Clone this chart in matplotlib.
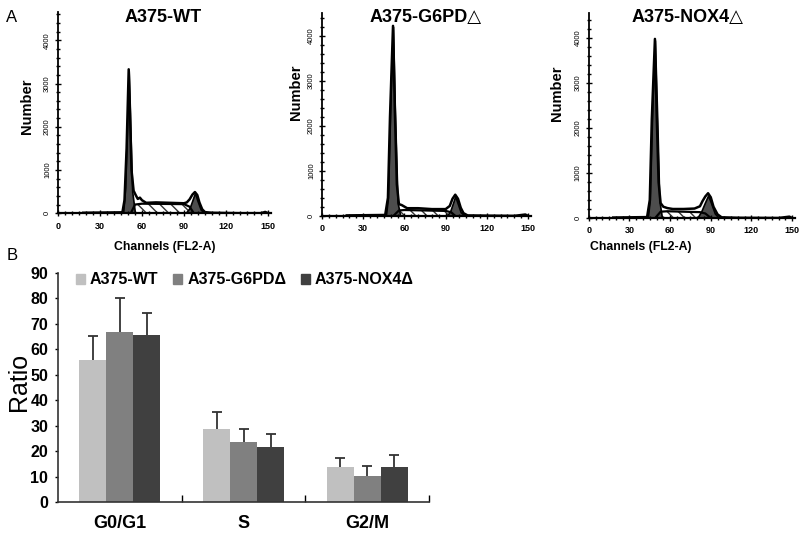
import numpy as np
import matplotlib
matplotlib.use('Agg')
import matplotlib.pyplot as plt
from matplotlib.patches import Patch
from matplotlib.ticker import MultipleLocator

plt.rcParams['font.family'] = ['Liberation Sans', 'DejaVu Sans']

# ---- panel A: DNA histograms ----
titles = ['A375-WT', 'A375-G6PD△', 'A375-NOX4△']

# A375-WT
wt_env_x = [18, 46, 47.5, 49, 50.5, 51.5, 52.5, 54, 55.5, 57, 58.5, 60, 63, 70, 80, 90, 92, 94, 96, 97.8, 99.5, 101, 103, 105, 110, 120, 130, 145, 148, 150]
wt_env_y = [10, 20, 300, 1500, 3330, 2300, 1000, 520, 420, 330, 360, 300, 240, 250, 240, 230, 250, 320, 430, 490, 420, 250, 90, 25, 10, 5, 0, 0, 30, 0]
wt_g1_x = [46.5, 48, 49.5, 50.5, 51.5, 53, 55]
wt_g1_y = [0, 600, 2200, 3300, 2100, 500, 0]
wt_g2_x = [91, 94, 96, 97.8, 99.5, 102, 105]
wt_g2_y = [0, 120, 300, 470, 300, 80, 0]
wt_s_x = [52, 55, 60, 75, 90, 94, 97]
wt_s_y = [0, 200, 220, 215, 210, 150, 0]

# A375-G6PD
g6_env_x = [18, 46, 48, 49.5, 51.7, 53, 54.5, 56, 58, 62, 70, 80, 90, 93, 95, 97, 99, 101, 103, 106, 120, 140, 148, 150]
g6_env_y = [10, 20, 400, 2200, 4220, 2400, 700, 260, 240, 170, 170, 150, 150, 220, 380, 470, 380, 180, 60, 10, 5, 0, 30, 0]
g6_g1_x = [46.5, 48, 50, 51.7, 53, 55, 57]
g6_g1_y = [0, 400, 2800, 4200, 2400, 300, 0]
g6_g2_x = [91, 93.5, 95.5, 97, 98.5, 101, 104]
g6_g2_y = [0, 120, 300, 440, 300, 80, 0]
g6_s_x = [52, 56, 60, 75, 90, 94, 97]
g6_s_y = [0, 120, 130, 120, 110, 80, 0]

# A375-NOX4
nx_env_x = [18, 43, 45, 46.5, 48.8, 50, 51.5, 53, 55, 58, 62, 70, 78, 82, 84, 86, 88, 90, 92, 95, 98, 110, 140, 148, 150]
nx_env_y = [10, 20, 400, 2200, 3980, 2400, 800, 330, 250, 220, 200, 200, 210, 260, 380, 480, 550, 460, 250, 80, 15, 5, 0, 30, 0]
nx_g1_x = [43.5, 45, 47, 48.8, 50.5, 52, 54]
nx_g1_y = [0, 400, 2600, 3950, 2200, 400, 0]
nx_g2_x = [80, 83, 85.5, 88, 90, 93, 96]
nx_g2_y = [0, 150, 330, 500, 350, 100, 0]
nx_s_x = [49, 53, 58, 70, 82, 86, 90]
nx_s_y = [0, 140, 150, 140, 130, 100, 0]

hist_data = [
    (wt_env_x, wt_env_y, wt_g1_x, wt_g1_y, wt_g2_x, wt_g2_y, wt_s_x, wt_s_y),
    (g6_env_x, g6_env_y, g6_g1_x, g6_g1_y, g6_g2_x, g6_g2_y, g6_s_x, g6_s_y),
    (nx_env_x, nx_env_y, nx_g1_x, nx_g1_y, nx_g2_x, nx_g2_y, nx_s_x, nx_s_y),
]
hist_ylim = [4650, 4510, 4560]
hist_pos = [[0.0725, 0.600, 0.266, 0.377],
            [0.4025, 0.595, 0.261, 0.381],
            [0.736, 0.591, 0.2575, 0.385]]

# ---- panel B: bar chart ----
phases = ['G0/G1', 'S', 'G2/M']
groups = ['A375-WT', 'A375-G6PDΔ', 'A375-NOX4Δ']
wt_mean = [55.8, 28.7, 13.9]
wt_err = [9.5, 6.8, 3.4]
g6_mean = [66.6, 23.7, 10.4]
g6_err = [13.7, 5.0, 3.9]
nx_mean = [65.5, 21.6, 13.9]
nx_err = [8.9, 5.1, 4.6]
bar_colors = ['#c0c0c0', '#808080', '#404040']

fig = plt.figure(figsize=(8, 5.33), dpi=100)

for i, d in enumerate(hist_data):
    ex, ey, g1x, g1y, g2x, g2y, sx, sy = d
    ax = fig.add_axes(hist_pos[i])
    ax.fill_between(sx, sy, color='white', hatch='\\\\\\', edgecolor='#333333', lw=0)
    ax.plot(sx, sy, color='black', lw=1.6)
    ax.fill_between(g1x, g1y, color='#4d4d4d', lw=1.2, edgecolor='black')
    ax.fill_between(g2x, g2y, color='#4d4d4d', lw=1.2, edgecolor='black')
    ax.plot(ex, ey, color='black', lw=1.8)
    ax.set_xlim(0, 152)
    ax.set_ylim(0, hist_ylim[i])
    for s in ['top', 'right']:
        ax.spines[s].set_visible(False)
    ax.spines['left'].set_linewidth(1.3)
    ax.spines['bottom'].set_linewidth(1.6)
    ax.set_xticks(np.arange(0, 151, 30))
    ax.xaxis.set_minor_locator(MultipleLocator(5))
    ax.set_yticks(np.arange(0, 4001, 1000))
    ax.yaxis.set_minor_locator(MultipleLocator(200))
    ax.tick_params(axis='x', which='major', direction='inout', length=4, width=1, labelsize=6.5, pad=4)
    ax.tick_params(axis='x', which='minor', direction='inout', length=2.5, width=1)
    ax.tick_params(axis='y', which='major', direction='inout', length=4, width=1, labelsize=5.5, pad=3)
    ax.tick_params(axis='y', which='minor', direction='inout', length=2.5, width=1)
    for lab in ax.get_xticklabels():
        lab.set_fontweight('bold')
    for lab in ax.get_yticklabels():
        lab.set_rotation(90)
        lab.set_va('center')

# titles and axis labels of panel A (pixel positions from the picture)
W, H = 800, 533
title_xy = [(163, 17), (426, 17), (688, 18)]
number_xy = [(27, 106), (296, 92), (557, 93)]
for t, (x, y) in zip(titles, title_xy):
    fig.text(x / W, 1 - y / H, t, ha='center', va='center', fontsize=13, fontweight='bold')
for (x, y) in number_xy:
    fig.text(x / W, 1 - y / H, 'Number', ha='center', va='center', rotation=90,
             fontsize=10.5, fontweight='bold')
for (x, y) in [(165, 247), (641, 247)]:
    fig.text(x / W, 1 - y / H, 'Channels (FL2-A)', ha='center', va='center',
             fontsize=8.8, fontweight='bold')
fig.text(12 / W, 1 - 17 / H, 'A', ha='center', va='center', fontsize=12)
fig.text(12 / W, 1 - 255 / H, 'B', ha='center', va='center', fontsize=12)

# bar chart
axb = fig.add_axes([0.0725, 0.058, 0.464, 0.43])
x = np.arange(len(phases))
bw = 0.218
means = [wt_mean, g6_mean, nx_mean]
errs = [wt_err, g6_err, nx_err]
for k in range(3):
    pos = x + (k - 1) * bw
    top = np.array(means[k]) + np.array(errs[k])
    axb.bar(pos, means[k], width=bw, color=bar_colors[k], label=groups[k])
    axb.vlines(pos, means[k], top, color='#333333', lw=1.3)
    axb.plot(pos, top, ls='none', marker='_', ms=7, mew=1.3, color='#333333')
axb.set_xlim(-0.5, 2.5)
axb.set_ylim(0, 90)
axb.set_yticks(np.arange(0, 91, 10))
axb.set_xticks([0.5, 1.5, 2.5])
axb.set_xticklabels([])
axb.set_xticks(x, minor=True)
axb.set_xticklabels(phases, minor=True)
axb.tick_params(axis='x', which='major', direction='in', length=5, width=1)
axb.tick_params(axis='x', which='minor', length=0, labelsize=13, pad=9)
axb.tick_params(axis='y', length=2, width=1, labelsize=11.5, pad=5)
for lab in axb.get_xticklabels(minor=True) + axb.get_yticklabels():
    lab.set_fontweight('bold')
for s in ['top', 'right']:
    axb.spines[s].set_visible(False)
axb.spines['left'].set_color('#333333')
axb.spines['bottom'].set_color('#333333')
axb.spines['left'].set_linewidth(1.2)
axb.spines['bottom'].set_linewidth(1.2)

handles = [Patch(color=c) for c in bar_colors]
axb.legend(handles, groups, ncol=3, loc='upper left', bbox_to_anchor=(0.03, 1.03),
           frameon=False, handlelength=0.6, handleheight=0.6, handletextpad=0.3,
           columnspacing=0.9, borderaxespad=0, prop=dict(weight='bold', size=11.5))

fig.text(19 / W, 1 - 382 / H, 'Ratio', ha='center', va='center', rotation=90, fontsize=18)

fig.savefig('out.png', dpi=100)
